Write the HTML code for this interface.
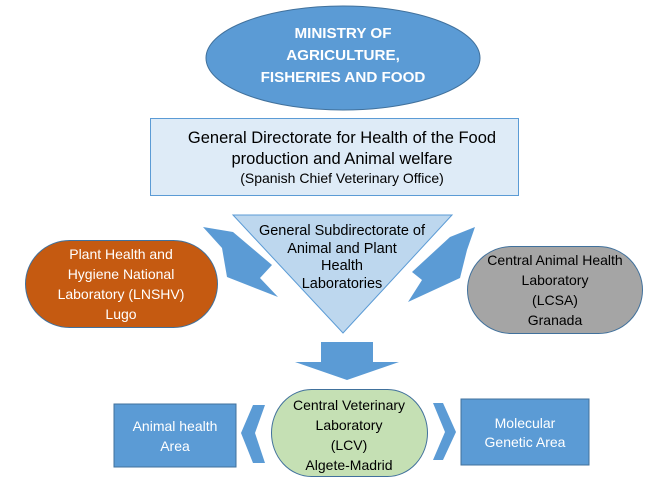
<!DOCTYPE html>
<html><head><meta charset="utf-8"><style>
html,body{margin:0;padding:0;background:#fff;}
svg{display:block;}
text{font-family:"Liberation Sans",sans-serif;}
</style></head><body>
<svg width="668" height="484" viewBox="0 0 668 484" xmlns="http://www.w3.org/2000/svg">
<ellipse cx="343" cy="58" rx="137" ry="52" fill="#5b9bd5" stroke="#41719c" stroke-width="1"/>
<g font-weight="bold" fill="#fff" font-size="15.2" text-anchor="middle">
<text x="343" y="38">MINISTRY OF</text>
<text x="343" y="60">AGRICULTURE,</text>
<text x="343" y="82">FISHERIES AND FOOD</text>
</g>
<rect x="150.5" y="118.5" width="368" height="77" fill="#deebf7" stroke="#5b9bd5"/>
<g fill="#000" text-anchor="middle">
<text x="342" y="143" font-size="16.5">General Directorate for Health of the Food</text>
<text x="342" y="164" font-size="16.5">production and Animal welfare</text>
<text x="342" y="183" font-size="14">(Spanish Chief Veterinary Office)</text>
</g>
<polygon points="203,227 233,232 272,265 260,278 278,297 227,277 222,248" fill="#5b9bd5"/>
<polygon points="475,227 450,237 412,272 422,280 408,302 460,278 467,250" fill="#5b9bd5"/>
<polygon points="233,215 452,215 343,333" fill="#bdd7ee" stroke="#5b9bd5"/>
<g fill="#000" text-anchor="middle" font-size="14.5">
<text x="342" y="235">General Subdirectorate of</text>
<text x="342" y="253">Animal and Plant</text>
<text x="342" y="270">Health</text>
<text x="342" y="288">Laboratories</text>
</g>
<rect x="25.5" y="240.5" width="192" height="87" rx="44" ry="44" fill="#c55a11" stroke="#41719c"/>
<g fill="#fff" text-anchor="middle" font-size="14">
<text x="121" y="259">Plant Health and</text>
<text x="121" y="279">Hygiene National</text>
<text x="121" y="299">Laboratory (LNSHV)</text>
<text x="121" y="319">Lugo</text>
</g>
<rect x="467.5" y="246.5" width="175" height="87" rx="44" ry="44" fill="#a5a5a5" stroke="#41719c"/>
<g fill="#000" text-anchor="middle" font-size="14">
<text x="555" y="265">Central Animal Health</text>
<text x="555" y="285">Laboratory</text>
<text x="555" y="305">(LCSA)</text>
<text x="555" y="325">Granada</text>
</g>
<polygon points="321,342 373,342 373,362 399,362 347,380 295,362 321,362" fill="#5b9bd5"/>
<rect x="271.5" y="389.5" width="156" height="87" rx="40" ry="44" fill="#c5e0b4" stroke="#41719c"/>
<g fill="#000" text-anchor="middle" font-size="14">
<text x="349" y="410">Central Veterinary</text>
<text x="349" y="430">Laboratory</text>
<text x="349" y="450">(LCV)</text>
<text x="349" y="470">Algete-Madrid</text>
</g>
<rect x="114" y="404" width="122" height="63" fill="#5b9bd5" stroke="#41719c"/>
<g fill="#fff" text-anchor="middle" font-size="14">
<text x="175" y="431">Animal health</text>
<text x="175" y="451">Area</text>
</g>
<rect x="461" y="399" width="128" height="66" fill="#5b9bd5" stroke="#41719c"/>
<g fill="#fff" text-anchor="middle" font-size="14">
<text x="525" y="428">Molecular</text>
<text x="525" y="447">Genetic Area</text>
</g>
<polygon points="265,405 253,405 241,433 253,463 265,463 255,433" fill="#5b9bd5"/>
<polygon points="433,403 443,403 456,432 443,460 433,460 445,432" fill="#5b9bd5"/>
</svg>
</body></html>
